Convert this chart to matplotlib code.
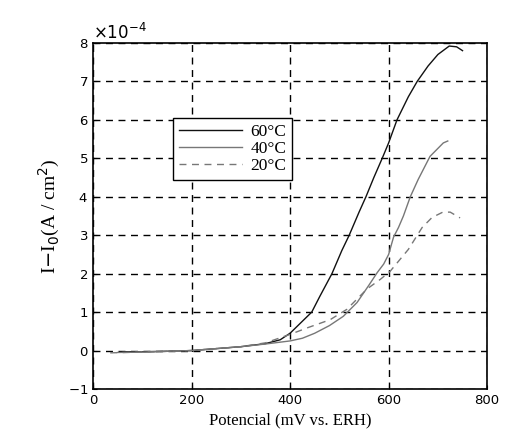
import numpy as np
import matplotlib
matplotlib.use("Agg")
import matplotlib.pyplot as plt
from matplotlib.ticker import ScalarFormatter

# current density in units of 1e-4 A/cm^2 vs potential in mV
x60 = [60, 100, 150, 200, 250, 300, 350, 380, 400, 420, 444, 460, 485, 505, 520,
       540, 554, 570, 587, 600, 617, 640, 658, 680, 700, 723, 738, 750]
y60 = [-0.03, -0.03, -0.02, 0.0, 0.05, 0.1, 0.18, 0.28, 0.45, 0.7, 1.0, 1.4, 2.0, 2.6, 3.0,
       3.6, 4.0, 4.5, 5.0, 5.4, 6.0, 6.6, 7.0, 7.4, 7.7, 7.92, 7.9, 7.8]

x40 = [50, 100, 200, 300, 350, 400, 425, 450, 480, 508, 536, 560, 577, 590, 600,
       610, 620, 630, 644, 660, 684, 711, 720]
y40 = [-0.05, -0.04, 0.0, 0.1, 0.17, 0.25, 0.32, 0.45, 0.65, 0.89, 1.25, 1.7, 2.03, 2.25, 2.5,
       2.95, 3.2, 3.5, 4.0, 4.45, 5.05, 5.4, 5.45]

x20 = [35, 100, 200, 300, 350, 400, 437, 481, 515, 556, 583, 603, 640, 668, 688, 710, 725, 745]
y20 = [-0.06, -0.04, 0.0, 0.1, 0.2, 0.42, 0.6, 0.8, 1.07, 1.6, 1.85, 2.06, 2.63, 3.2, 3.46, 3.6, 3.6, 3.45]

labels = ["60°C", "40°C", "20°C"]
scale = 1e-4

fig = plt.figure(figsize=(5.08, 4.34), dpi=100)
ax = fig.add_axes([0.183, 0.1037, 0.776, 0.7973])

ax.plot(x60, np.array(y60) * scale, "-", color="#111111", lw=1.0, label=labels[0])
ax.plot(x40, np.array(y40) * scale, "-", color="#777777", lw=1.0, label=labels[1])
ax.plot(x20, np.array(y20) * scale, "--", color="#777777", lw=1.0, dashes=(5, 4), label=labels[2])

ax.set_xlim(0, 800)
ax.set_ylim(-1e-4, 8e-4)
ax.set_xticks([0, 200, 400, 600, 800])
ax.set_yticks(np.arange(-1, 9) * scale)

fmt = ScalarFormatter(useMathText=True)
fmt.set_powerlimits((0, 0))
ax.yaxis.set_major_formatter(fmt)
ax.yaxis.get_offset_text().set_fontsize(12)
ax.yaxis.get_offset_text().set_family("DejaVu Sans")

ax.grid(True, color="black", linestyle=(0, (5, 4)), lw=1.0)
ax.tick_params(direction="in", length=3, labelsize=9.5, colors="black")
for s in ax.spines.values():
    s.set_linewidth(1.2)
    s.set_color("black")

ax.set_xlabel("Potencial (mV vs. ERH)", family="Liberation Serif", fontsize=12)
ax.set_ylabel(r"I$-$I$_0$(A / cm$^2$)", family="Liberation Serif", fontsize=14)

leg = ax.legend(loc="upper left", bbox_to_anchor=(0.203, 0.783), borderaxespad=0,
                fancybox=False, framealpha=1, edgecolor="black",
                prop={"family": "Liberation Serif", "size": 12.5},
                handlelength=3.6, handletextpad=0.5, labelspacing=0.05, borderpad=0.35)
leg.get_frame().set_linewidth(1.0)

fig.savefig("out.png", dpi=100)
